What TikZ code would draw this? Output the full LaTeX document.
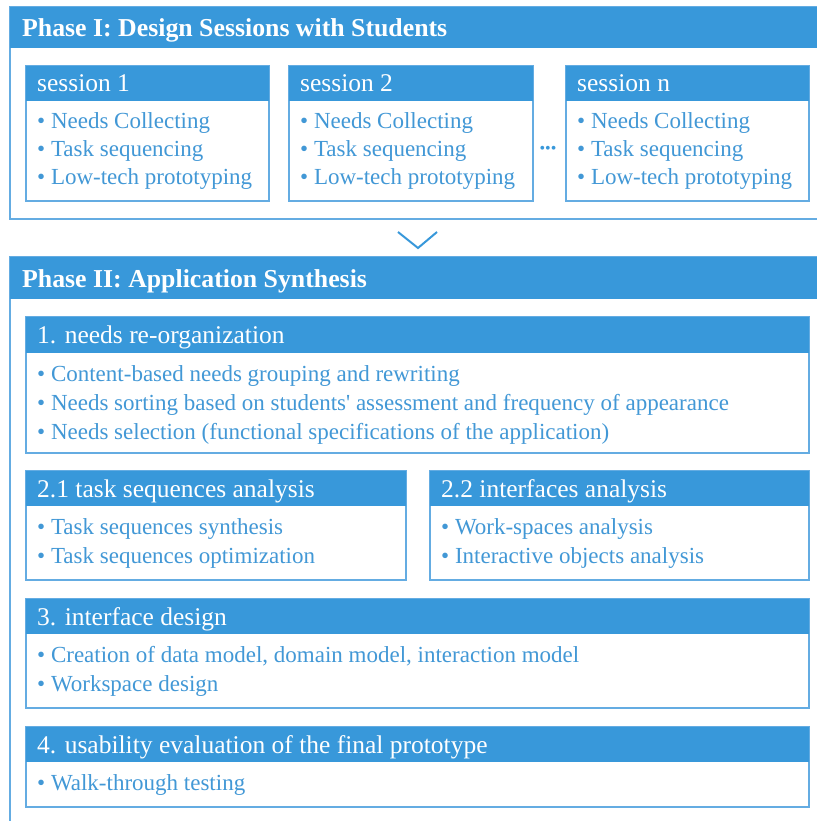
\documentclass[tikz,border=0pt]{standalone}
\usepackage{fontspec}
\setmainfont{Liberation Serif}[Ligatures=TeXOff]
\definecolor{hdr}{RGB}{56,152,218}
\definecolor{frm}{RGB}{100,172,226}
\definecolor{txt}{RGB}{66,152,214}
\tikzset{
 frame/.style={draw=frm, line width=1.6pt, fill=white, anchor=north west, inner sep=0pt, outer sep=0pt},
 hdrbar/.style={fill=hdr, anchor=north west, inner sep=0pt, outer sep=0pt},
 hdrtext/.style={text=white, font=\fontsize{25.5}{30}\selectfont, anchor=base west, inner sep=0pt},
 phasetext/.style={text=white, font=\bfseries\fontsize{25.8}{30}\selectfont, anchor=base west, inner sep=0pt},
 item/.style={text=txt, font=\fontsize{23}{27}\selectfont, anchor=base west, inner sep=0pt},
}
\begin{document}
\begin{tikzpicture}[x=1pt,y=-1pt]
\useasboundingbox (0,0) rectangle (816,821);
% Phase I
\node[frame, minimum width=830pt, minimum height=212pt] (p1) at (10,7) {};
\node[hdrbar, minimum width=830pt, minimum height=41pt] (p1h) at (10,7) {};
\node[phasetext] (p1t) at (22,37) {Phase I: Design Sessions with Students};
% sessions
\node[frame, minimum width=243pt, minimum height=135pt] (s1) at (26,66) {};
\node[hdrbar, minimum width=243pt, minimum height=35pt] (s1h) at (26,66) {};
\node[hdrtext] (s1t) at (37,92) {session 1};
\node[item] (s1a) at (37,129) {• Needs Collecting};
\node[item] (s1b) at (37,157) {• Task sequencing};
\node[item] (s1c) at (37,185) {• Low-tech prototyping};
\node[frame, minimum width=244pt, minimum height=135pt] (s2) at (289,66) {};
\node[hdrbar, minimum width=244pt, minimum height=35pt] (s2h) at (289,66) {};
\node[hdrtext] (s2t) at (300,92) {session 2};
\node[item] (s2a) at (300,129) {• Needs Collecting};
\node[item] (s2b) at (300,157) {• Task sequencing};
\node[item] (s2c) at (300,185) {• Low-tech prototyping};
\node[frame, minimum width=243pt, minimum height=135pt] (sn) at (566,66) {};
\node[hdrbar, minimum width=243pt, minimum height=35pt] (snh) at (566,66) {};
\node[hdrtext] (snt) at (577,92) {session n};
\node[item] (sna) at (577,129) {• Needs Collecting};
\node[item] (snb) at (577,157) {• Task sequencing};
\node[item] (snc) at (577,185) {• Low-tech prototyping};
\node[text=hdr, font=\fontsize{16}{16}\selectfont, inner sep=0pt] (dots) at (548,150) {•••};
% chevron
\coordinate (cl) at (398,232);
\coordinate (cm) at (418,248);
\coordinate (cr) at (437,232);
\draw[hdr, line width=2pt] (cl) -- (cm) -- (cr);
% Phase II
\node[frame, minimum width=830pt, minimum height=580pt] (p2) at (10,257) {};
\node[hdrbar, minimum width=830pt, minimum height=42pt] (p2h) at (10,257) {};
\node[phasetext] (p2t) at (22,287) {Phase II: Application Synthesis};
% box 1
\node[frame, minimum width=783pt, minimum height=136pt] (b1) at (26,317) {};
\node[hdrbar, minimum width=783pt, minimum height=36pt] (b1h) at (26,317) {};
\node[hdrtext] (b1t) at (37,343) {1. needs re-organization};
\node[item] (b1a) at (37,381) {• Content-based needs grouping and rewriting};
\node[item] (b1b) at (37,410) {• Needs sorting based on students' assessment and frequency of appearance};
\node[item] (b1c) at (37,439) {• Needs selection (functional specifications of the application)};
% box 2.1
\node[frame, minimum width=380pt, minimum height=109pt] (b21) at (26,471) {};
\node[hdrbar, minimum width=380pt, minimum height=35pt] (b21h) at (26,471) {};
\node[hdrtext] (b21t) at (37,497) {2.1 task sequences analysis};
\node[item] (b21a) at (37,534) {• Task sequences synthesis};
\node[item] (b21b) at (37,563) {• Task sequences optimization};
% box 2.2
\node[frame, minimum width=379pt, minimum height=109pt] (b22) at (430,471) {};
\node[hdrbar, minimum width=379pt, minimum height=35pt] (b22h) at (430,471) {};
\node[hdrtext] (b22t) at (441,497) {2.2 interfaces analysis};
\node[item] (b22a) at (441,534) {• Work-spaces analysis};
\node[item] (b22b) at (441,563) {• Interactive objects analysis};
% box 3
\node[frame, minimum width=783pt, minimum height=109pt] (b3) at (26,599) {};
\node[hdrbar, minimum width=783pt, minimum height=35pt] (b3h) at (26,599) {};
\node[hdrtext] (b3t) at (37,625) {3. interface design};
\node[item] (b3a) at (37,662) {• Creation of data model, domain model, interaction model};
\node[item] (b3b) at (37,691) {• Workspace design};
% box 4
\node[frame, minimum width=783pt, minimum height=80pt] (b4) at (26,727) {};
\node[hdrbar, minimum width=783pt, minimum height=35pt] (b4h) at (26,727) {};
\node[hdrtext] (b4t) at (37,753) {4. usability evaluation of the final prototype};
\node[item] (b4a) at (37,790) {• Walk-through testing};
\end{tikzpicture}
\end{document}
